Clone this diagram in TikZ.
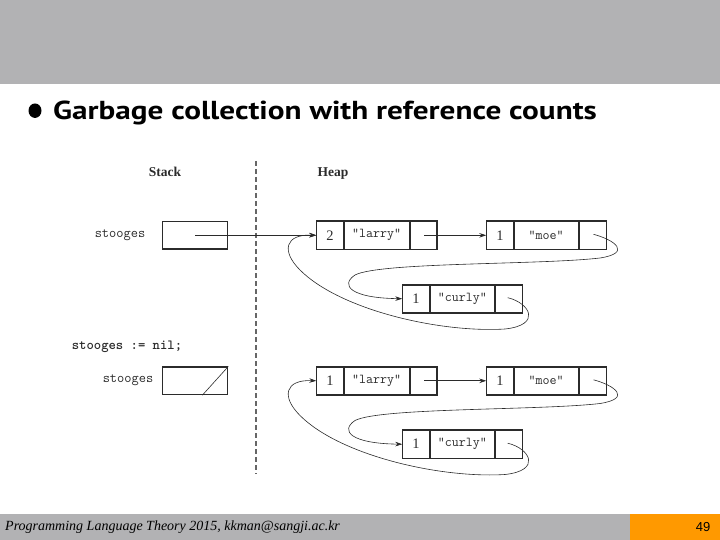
\documentclass[tikz,border=0pt]{standalone}
\usepackage{fontspec}
\setmainfont{Liberation Serif}
\newfontfamily\titlefont[FakeStretch=1.2]{PT Sans}
\newfontfamily\footsans{Liberation Sans}
\usetikzlibrary{arrows.meta,calc,shapes.geometric}
\definecolor{bandgray}{HTML}{B2B2B4}
\definecolor{footorange}{HTML}{FF9900}
\definecolor{ink}{HTML}{2B2B2B}
\tikzset{
  cell/.style={draw=ink, line width=0.8pt, minimum height=27.5pt, inner sep=0pt, text=ink},
  cnt/.style={cell, font=\fontsize{14.5}{14}\selectfont},
  str/.style={cell, font=\ttfamily\fontsize{13.6}{14}\selectfont},
  outline/.style={draw=ink, line width=1.3pt},
  ptr/.style={draw=ink, line width=0.8pt, -{Stealth[length=7pt,width=4.5pt]}},
  curve/.style={draw=ink, line width=0.6pt, -{Stealth[length=7pt,width=4.5pt]}},
  lbl/.style={text=ink, inner sep=0pt, font=\ttfamily\fontsize{14}{14}\selectfont},
  hdr/.style={text=ink, inner sep=0pt, anchor=base, font=\bfseries\fontsize{13.5}{14}\selectfont},
}
\begin{document}
\begin{tikzpicture}[x=1pt,y=-1pt]
\useasboundingbox (0,0) rectangle (720,540);
% bands
\fill[bandgray] (0,0) rectangle (720,84);
\fill[bandgray] (0,514) rectangle (630,540);
\fill[footorange] (630,514) rectangle (720,540);
% title
\node[ellipse, fill=black, inner sep=0pt, minimum width=13pt, minimum height=14.5pt] (bullet) at (35,110.7) {};
\node[anchor=base west, inner sep=0pt, font=\titlefont\bfseries\fontsize{26}{28}\selectfont] (title) at (53,119.3) {Garbage collection with reference counts};
% footer
\node[anchor=west, inner sep=0pt, font=\itshape\fontsize{14}{14}\selectfont] (foot) at (5,527) {Programming Language Theory 2015, kkman@sangji.ac.kr};
\node[inner sep=0pt, font=\footsans\fontsize{13}{13}\selectfont] (page) at (703,527) {49};
% headers
\node[hdr] (stackh) at (165,176.5) {Stack};
\node[hdr] (heaph) at (333,176.5) {Heap};
\coordinate (dtop) at (256,161);
\coordinate (dbot) at (256,474);
\draw[draw=gray!80!black, line width=1.2pt, dash pattern=on 5pt off 3pt] (dtop) -- (dbot);
% stack labels
\node[lbl] (st1) at (120,235) {stooges};
\node[lbl, font=\ttfamily\bfseries\fontsize{14}{14}\selectfont] (assign) at (127,347) {stooges := nil;};
\node[lbl] (st2) at (128,380.7) {stooges};
\node[cell, minimum width=65pt, line width=1.3pt] (s1) at (195.2,235.3) {};
\node[cell, minimum width=65pt, line width=1.3pt] (s2) at (195.2,380.8) {};
\draw[draw=ink, line width=0.6pt] ($(s2.south east)+(-26,0)$) -- (s2.north east);
% heap rows
\foreach \r/\dy/\n in {1/0/2, 2/145.5/1}{
  \begin{scope}[shift={(0,\dy)}]
    \node[cnt, minimum width=26.6pt] (l\r c) at (330,235.3) {\n};
    \node[str, minimum width=65pt, anchor=west] (l\r s) at (l\r c.east) {"larry"};
    \node[cell, minimum width=26.7pt, anchor=west] (l\r p) at (l\r s.east) {};
    \draw[outline] (l\r c.north west) rectangle (l\r p.south east);
    \node[cnt, minimum width=26.6pt] (m\r c) at (500,235.3) {1};
    \node[str, minimum width=64pt, anchor=west] (m\r s) at (m\r c.east) {"moe"};
    \node[cell, minimum width=27.2pt, anchor=west] (m\r p) at (m\r s.east) {};
    \draw[outline] (m\r c.north west) rectangle (m\r p.south east);
    \node[cnt, minimum width=26.6pt] (c\r c) at (416,298.7) {1};
    \node[str, minimum width=64.7pt, anchor=west] (c\r s) at (c\r c.east) {"curly"};
    \node[cell, minimum width=26.3pt, anchor=west] (c\r p) at (c\r s.east) {};
    \draw[outline] (c\r c.north west) rectangle (c\r p.south east);
    \draw[ptr] ($(l\r p.center)+(1,0)$) -- (m\r c.west);
    \draw[curve] ($(m\r p.center)+(1,-1)$) .. controls (615,240) and (632,253) .. (600,258)
       .. controls (540,265) and (380,262) .. (355,275)
       .. controls (340,285) and (350,298) .. (c\r c.west);
    \draw[curve] ($(c\r p.center)+(-1,-1)$) .. controls (530,303) and (542,325) .. (505,329)
       .. controls (440,333) and (340,310) .. (300,270)
       .. controls (281,251) and (285,234) .. (l\r c.west);
  \end{scope}
}
\draw[ptr] (s1.center) -- (l1c.west);
\end{tikzpicture}
\end{document}
